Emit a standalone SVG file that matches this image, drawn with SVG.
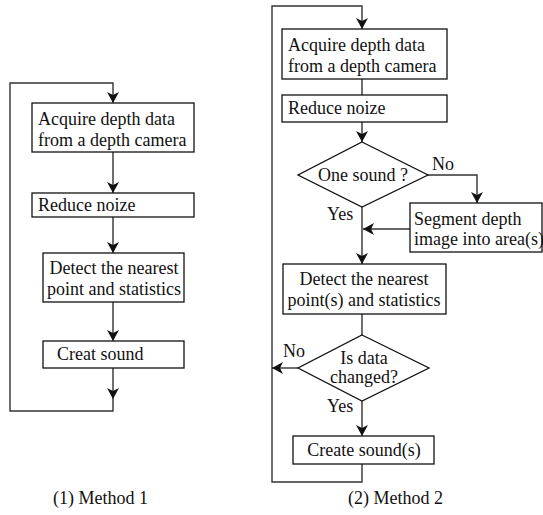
<svg xmlns="http://www.w3.org/2000/svg" width="543" height="515" viewBox="0 0 543 515">
<style>
.box{fill:#fff;stroke:#111;stroke-width:1.3}
.ln{fill:none;stroke:#333;stroke-width:1.4}
.c{text-anchor:middle}
</style>
<defs>
<marker id="ah" markerUnits="userSpaceOnUse" markerWidth="14" markerHeight="14" viewBox="-12 -7 14 14" refX="0" refY="0" orient="auto">
<path d="M0,0 L-11,-6 L-8,0 L-11,6 Z" fill="#111"/>
</marker>
<path id="ahd" d="M0,0 L-6,-11 L0,-8 L6,-11 Z" fill="#111"/>
</defs>
<rect width="543" height="515" fill="#fff"/>
<g font-family="'Liberation Serif', 'Times New Roman', 'DejaVu Serif', serif" font-size="18" fill="#111">
<g id="connectors">
<path class="ln" d="M113,368 L113,411 L10,411 L10,83 L113,83 L113,103" marker-end="url(#ah)"/>
<use href="#ahd" x="113" y="399"/>
<path class="ln" d="M113,152 L113,193" marker-end="url(#ah)"/>
<path class="ln" d="M113,217 L113,253" marker-end="url(#ah)"/>
<path class="ln" d="M113,302 L113,341" marker-end="url(#ah)"/>
<path class="ln" d="M362,464 L362,482 L272,482 L272,6 L362,6 L362,29" marker-end="url(#ah)"/>
<path class="ln" d="M362,79 L362,95"/>
<path class="ln" d="M362,122 L362,142" marker-end="url(#ah)"/>
<path class="ln" d="M428,175 L477,175 L477,203" marker-end="url(#ah)"/>
<path class="ln" d="M362,207 L362,264" marker-end="url(#ah)"/>
<path class="ln" d="M410,229 L363,229" marker-end="url(#ah)"/>
<path class="ln" d="M362,314 L362,335"/>
<path class="ln" d="M298,368 L272,368" marker-end="url(#ah)"/>
<path class="ln" d="M362,401 L362,436" marker-end="url(#ah)"/>
<text x="432" y="170">No</text>
<text x="327" y="220">Yes</text>
<text x="283" y="357">No</text>
<text x="327" y="412">Yes</text>
</g>
<g id="m1-acquire"><rect class="box" x="32" y="103" width="162" height="49"/><text x="38" y="125">Acquire depth data</text><text x="38" y="146">from a depth camera</text></g>
<g id="m1-reduce"><rect class="box" x="32" y="193" width="162" height="24"/><text x="38" y="211">Reduce noize</text></g>
<g id="m1-detect"><rect class="box" x="43" y="253" width="141" height="49"/><text class="c" x="114" y="274">Detect the nearest</text><text class="c" x="114" y="295">point and statistics</text></g>
<g id="m1-sound"><rect class="box" x="43" y="341" width="141" height="27"/><text x="57" y="360">Creat sound</text></g>
<g id="m2-acquire"><rect class="box" x="282" y="29" width="165" height="50"/><text x="288" y="51">Acquire depth data</text><text x="288" y="72">from a depth camera</text></g>
<g id="m2-reduce"><rect class="box" x="282" y="95" width="165" height="27"/><text x="288" y="114">Reduce noize</text></g>
<g id="m2-one"><polygon class="box" points="362,142 428,175 362,207 298,175"/><text class="c" x="363" y="181">One sound ?</text></g>
<g id="m2-segment"><rect class="box" x="410" y="203" width="132" height="49"/><text x="414" y="225">Segment depth</text><text x="414" y="245">image into area(s)</text></g>
<g id="m2-detect"><rect class="box" x="283" y="264" width="163" height="50"/><text class="c" x="364" y="285">Detect the nearest</text><text class="c" x="364" y="306">point(s) and statistics</text></g>
<g id="m2-changed"><polygon class="box" points="362,335 429,368 362,401 298,368"/><text class="c" x="364" y="364">Is data</text><text class="c" x="364" y="383">changed?</text></g>
<g id="m2-create"><rect class="box" x="293" y="436" width="141" height="28"/><text class="c" x="364" y="456">Create sound(s)</text></g>
<g id="labels"><text x="53" y="504">(1) Method 1</text><text x="348" y="504">(2) Method 2</text></g>
</g>
</svg>
